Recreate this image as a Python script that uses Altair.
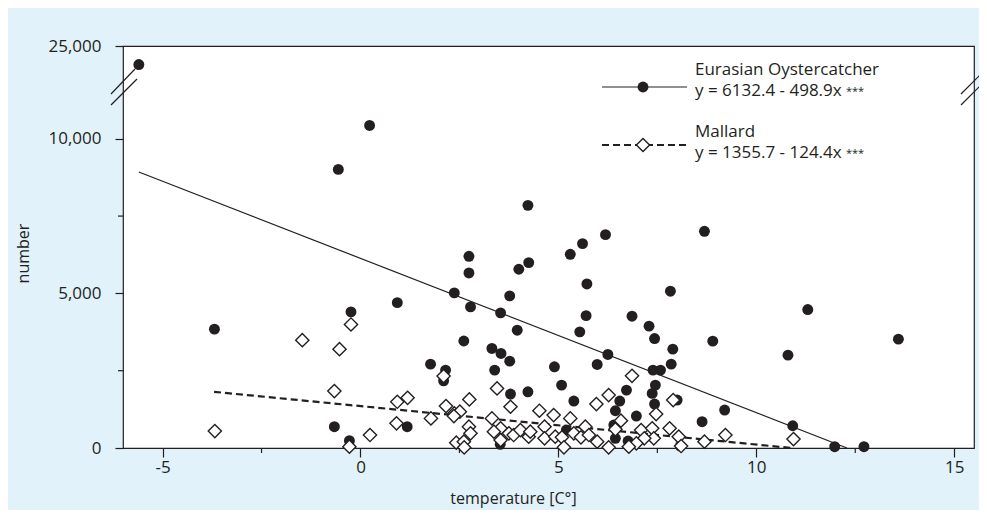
import altair as alt
import pandas as pd

# ---------------- data ----------------
oyster_temp = [-5.6, -3.69, -0.56, 0.23, -0.24, -0.66, -0.28, 0.93, 1.18, 1.77,
               2.15, 2.10, 2.37, 2.61, 2.74, 2.74, 2.78, 3.32, 3.55, 3.77,
               3.39, 3.54, 3.77, 3.96, 4.00, 4.25, 4.23, 3.79, 4.23, 4.90,
               3.53, 5.54, 5.30, 5.61, 6.19, 5.72, 5.70, 6.86, 7.29, 7.43,
               7.83, 8.69, 8.90, 7.89, 6.25, 5.98, 7.85, 7.39, 7.58, 5.08,
               7.45, 6.72, 7.37, 5.39, 6.55, 7.43, 6.44, 9.20, 6.97, 8.63,
               6.40, 6.44, 6.76, 5.20, 8.08, 8.00, 11.30, 13.59, 10.80, 10.92,
               11.98, 12.72]
oyster_num = [24400, 3843, 9009, 10430, 4402, 688, 236, 4700, 688, 2712,
              2519, 2173, 5015, 3460, 6200, 5661, 4563, 3219, 3058, 2809,
              2519, 4370, 4920, 3810, 5780, 5996, 7847, 1744, 1818, 2625,
              120, 3756, 6264, 6610, 6900, 5305, 4280, 4262, 3940, 3540,
              5070, 7007, 3455, 3197, 3025, 2701, 2712, 2519, 2519, 2034,
              2034, 1873, 1766, 1518, 1518, 1421, 1205, 1227, 1033, 850,
              743, 312, 226, 581, 64, 1550, 4478, 3520, 3003, 720,
              42, 42]

mallard_temp = [-3.68, -1.47, -0.53, -0.66, -0.24, -0.28, 0.24, 0.91, 0.93, 1.19,
                2.10, 1.78, 2.16, 2.37, 2.51, 2.42, 2.61, 2.62, 2.74, 2.78,
                2.75, 3.45, 3.79, 4.52, 4.88, 2.36, 3.32, 3.54, 3.37, 3.54,
                3.75, 3.87, 4.04, 4.25, 4.29, 4.65, 4.65, 4.92, 6.86, 6.27,
                5.96, 7.90, 7.47, 6.58, 5.30, 5.68, 5.39, 5.09, 5.57, 5.77,
                5.98, 6.27, 5.14, 6.44, 7.09, 7.37, 7.41, 7.17, 6.97, 6.78,
                7.81, 8.04, 8.10, 8.69, 9.22, 10.94]
mallard_num = [549, 3487, 3197, 1840, 3994, 42, 420, 797, 1495, 1624,
               2325, 958, 1356, 1119, 1173, 172, 204, 20, 688, 474,
               1571, 1927, 1334, 1205, 1066, 1033, 958, 635, 527, 258,
               474, 420, 581, 366, 527, 688, 312, 366, 2335, 1711,
               1421, 1550, 1098, 882, 958, 688, 474, 344, 344, 420,
               204, 22, 22, 603, 581, 635, 312, 312, 150, 42,
               635, 366, 64, 204, 420, 290]

# regression equations from the legend
oyster_fit = (6132.4, -498.9)
mallard_fit = (1355.7, -124.4)
oyster_fit_x = [-5.6, 12.29]
mallard_fit_x = [-3.7, 10.9]

x_major = [-5, 0, 5, 10, 15]
x_minor = [-2.5, 2.5, 7.5, 12.5]
y_major = [0, 5000, 10000, 25000]
y_minor = [2500, 7500]

legend_names = ["Eurasian Oystercatcher", "Mallard"]
legend_eqs = ["y = 6132.4 - 498.9x", "y = 1355.7 - 124.4x"]

# ---------------- broken axis mapping ----------------
CUT = 12000  # values above this are shifted down by CUT (axis break)


def disp(v):
    return v if v <= CUT else v - CUT


INK = "#231f20"
BG = "#e1f2fb"
FONT = "Open Sans"
W, H = 851, 402

xs = alt.Scale(domain=[-6, 15.5], nice=False, zero=False)
ys = alt.Scale(domain=[0, disp(25000)], nice=False, zero=False)

oyster = pd.DataFrame({"t": oyster_temp, "n": oyster_num})
oyster["d"] = oyster["n"].map(disp)
mallard = pd.DataFrame({"t": mallard_temp, "n": mallard_num})
mallard["d"] = mallard["n"].map(disp)

fit_o = pd.DataFrame({"t": oyster_fit_x,
                      "d": [oyster_fit[0] + oyster_fit[1] * x for x in oyster_fit_x]})
fit_m = pd.DataFrame({"t": mallard_fit_x,
                      "d": [mallard_fit[0] + mallard_fit[1] * x for x in mallard_fit_x]})

y_vals = [disp(v) for v in y_major]

x_axis = alt.Axis(values=x_major, title="temperature [C°]", grid=False,
                  domain=False, tickColor=INK, tickSize=9, tickWidth=1.2,
                  labelFont=FONT, labelFontSize=17, labelColor=INK, labelPadding=2,
                  labelExpr="datum.value < 0 ? '-' + abs(datum.value) : '' + datum.value",
                  titleFont=FONT, titleFontSize=16, titleFontWeight="normal",
                  titleColor=INK, titleX=390, titleY=55, titleAnchor="middle",
                  titleBaseline="alphabetic")
y_axis = alt.Axis(values=y_vals, title="number", grid=False, domain=False,
                  tickColor=INK, tickSize=8, tickWidth=1.2,
                  labelFont=FONT, labelFontSize=17, labelColor=INK, labelPadding=14,
                  labelExpr="datum.value == 13000 ? '25,000' : format(datum.value, ',')",
                  titleFont=FONT, titleFontSize=16, titleFontWeight="normal",
                  titleColor=INK, titleX=-95, titleY=207, titleAngle=-90,
                  titleAlign="center", titleBaseline="alphabetic")

line_o = alt.Chart(fit_o).mark_line(color=INK, strokeWidth=1.2).encode(
    x=alt.X("t:Q", scale=xs, axis=x_axis), y=alt.Y("d:Q", scale=ys, axis=y_axis))
line_m = alt.Chart(fit_m).mark_line(color=INK, strokeWidth=2.2, strokeDash=[7, 4]).encode(
    x=alt.X("t:Q", scale=xs), y=alt.Y("d:Q", scale=ys))

pts_o = alt.Chart(oyster).mark_point(shape="circle", filled=True, color=INK, size=119,
                                     opacity=1).encode(
    x=alt.X("t:Q", scale=xs), y=alt.Y("d:Q", scale=ys))
pts_m = alt.Chart(mallard).mark_point(shape="diamond", filled=True, fill="white",
                                      stroke=INK, strokeWidth=1.4, size=175,
                                      opacity=1).encode(
    x=alt.X("t:Q", scale=xs), y=alt.Y("d:Q", scale=ys))

# minor ticks
minx = alt.Chart(pd.DataFrame({"t": x_minor})).mark_rule(color=INK, strokeWidth=1.2).encode(
    x=alt.X("t:Q", scale=xs), y=alt.value(H), y2=alt.value(H + 5))
miny = alt.Chart(pd.DataFrame({"d": y_minor})).mark_rule(color=INK, strokeWidth=1.2).encode(
    y=alt.Y("d:Q", scale=ys), x=alt.value(-5), x2=alt.value(0))

# axis-break slashes (pixel offsets relative to plot area)
brk = pd.DataFrame({
    "x1": [-12, -12, 838, 838], "x2": [12, 14, 863, 863],
    "y1": [48, 59, 48, 59], "y2": [23, 33, 23, 34]})
breaks = alt.Chart(brk).mark_rule(color=INK, strokeWidth=1.2).encode(
    x=alt.X("x1:Q", scale=None), x2="x2:Q",
    y=alt.Y("y1:Q", scale=None), y2="y2:Q")

# legend
one = pd.DataFrame({"a": [0]})
leg = []
leg.append(alt.Chart(one).mark_rule(color=INK, strokeWidth=1.2).encode(
    x=alt.value(479), x2=alt.value(564), y=alt.value(41)))
leg.append(alt.Chart(one).mark_point(shape="circle", filled=True, color=INK, size=119,
                                     opacity=1).encode(x=alt.value(520), y=alt.value(41)))
leg.append(alt.Chart(one).mark_rule(color=INK, strokeWidth=2.2, strokeDash=[7, 4]).encode(
    x=alt.value(479), x2=alt.value(564), y=alt.value(99)))
leg.append(alt.Chart(one).mark_point(shape="diamond", filled=True, fill="white", stroke=INK,
                                     strokeWidth=1.4, size=175, opacity=1).encode(
    x=alt.value(520), y=alt.value(99)))
for txt, yy in [(legend_names[0], 29), (legend_eqs[0], 50),
                (legend_names[1], 91), (legend_eqs[1], 112)]:
    leg.append(alt.Chart(one).mark_text(text=txt, align="left", baseline="alphabetic",
                                        font=FONT, fontSize=17, color=INK).encode(
        x=alt.value(572), y=alt.value(yy)))
for yy in [49, 111]:
    leg.append(alt.Chart(one).mark_text(text="***", align="left", baseline="alphabetic",
                                        font=FONT, fontSize=11, color=INK).encode(
        x=alt.value(723), y=alt.value(yy)))

chart = alt.layer(line_o, line_m, pts_o, pts_m, minx, miny, breaks, *leg).properties(
    width=W, height=H,
    autosize=alt.AutoSizeParams(type="none"),
    padding={"left": 115, "top": 38, "right": 5, "bottom": 62},
    background=BG,
).configure_view(fill="white", stroke=INK, strokeWidth=1.2)

chart.save("out.html", embed_options={"renderer": "svg", "actions": False})
